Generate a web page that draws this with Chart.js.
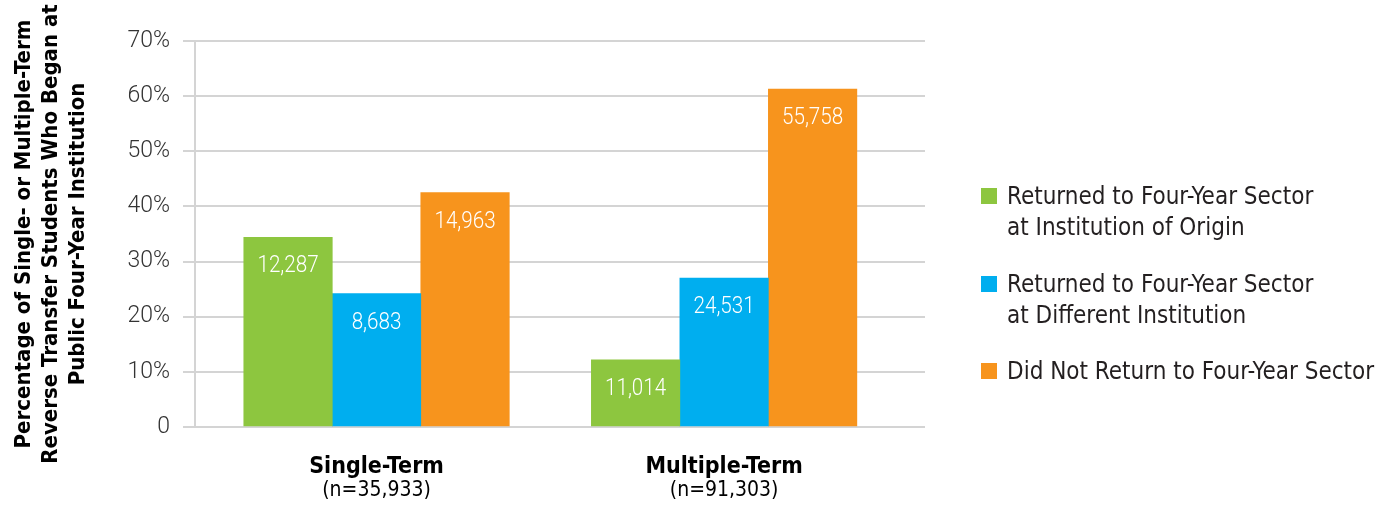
<!DOCTYPE html>
<html lang=en>
<head>
<meta charset=UTF-8>
<title>Reverse transfer students</title>
<script src="https://cdn.jsdelivr.net/npm/chart.js"></script>
<style>
  * { margin: 0; padding: 0; }
  body { background: #fff; }
  .wrap { position: relative; width: 1377px; height: 508px; }
  .legend { position: absolute; left: 981px; top: 0; font-family: 'Liberation Sans Narrow', 'DejaVu Sans Condensed', sans-serif; font-size: 24px; line-height: 31px; color: #231f20; }
  .item { position: absolute; left: 0; white-space: nowrap; }
  .item i { position: absolute; left: 0; top: 7px; width: 16px; height: 16px; }
  .item span { display: block; margin-left: 26px; }
</style>
</head>
<body>
<div class=wrap>
  <canvas id="chart" width="1377" height="508"></canvas>
  <div class=legend id="legend"></div>
</div>
<script>
const categories = ['Single-Term', 'Multiple-Term'];
const groupSizes = ['(n=35,933)', '(n=91,303)'];
const seriesNames = [
  ['Returned to Four-Year Sector', 'at Institution of Origin'],
  ['Returned to Four-Year Sector', 'at Different Institution'],
  ['Did Not Return to Four-Year Sector']
];
// percent of students (bar heights)
const originPct = [34.4, 12.2];
const differentPct = [24.2, 27.0];
const notReturnPct = [42.5, 61.3];
// student counts printed inside the bars
const originCounts = [12287, 11014];
const differentCounts = [8683, 24531];
const notReturnCounts = [14963, 55758];
const yTicks = [0, 10, 20, 30, 40, 50, 60, 70];

const colors = ['#8dc63f', '#00aeef', '#f7941d'];
const NARROW = "'Liberation Sans Narrow', 'DejaVu Sans Condensed', sans-serif";

const pctSeries = [originPct, differentPct, notReturnPct];
const countSeries = [originCounts, differentCounts, notReturnCounts];

const datasets = pctSeries.map((vals, s) => ({
  label: seriesNames[s].join(' '),
  data: vals.map((v, i) => ({ x: i, y: v })),
  backgroundColor: colors[s],
  counts: countSeries[s],
  barThickness: 88.5,
  borderWidth: 0
}));

// the two groups are not centred in the plot, so the x range is set by hand
const xMin = -0.5223, xMax = 1.578;
const setTicks = s => { s.ticks = categories.map((c, i) => ({ value: i })); };

const barLabels = {
  id: 'barLabels',
  afterDatasetsDraw(chart) {
    const ctx = chart.ctx;
    chart.data.datasets.forEach((ds, d) => {
      chart.getDatasetMeta(d).data.forEach((bar, i) => {
        ctx.save();
        ctx.translate(bar.x, bar.y + 29);
        ctx.scale(0.86, 1);
        ctx.fillStyle = '#fff';
        ctx.font = '300 24px Roboto';
        ctx.textAlign = 'center';
        ctx.textBaseline = 'middle';
        ctx.fillText(ds.counts[i].toLocaleString('en-US'), 0, 0);
        ctx.restore();
      });
    });
  }
};

new Chart(document.getElementById('chart'), {
  type: 'bar',
  data: { datasets },
  plugins: [barLabels],
  options: {
    responsive: false,
    animation: false,
    layout: { padding: { top: 41, right: 452, left: 0, bottom: 7 } },
    plugins: { legend: { display: false }, tooltip: { enabled: false } },
    scales: {
      x: {
        type: 'linear', min: xMin, max: xMax, offset: false, weight: 0,
        afterBuildTicks: setTicks,
        afterFit: s => { s.height = 52; },
        grid: { display: false, drawTicks: false },
        border: { display: false },
        ticks: {
          autoSkip: false, maxRotation: 0, padding: 29, color: '#000',
          font: { family: NARROW, size: 23, weight: 'bold', lineHeight: 1 },
          callback: (v, i) => categories[i]
        }
      },
      x2: {
        type: 'linear', min: xMin, max: xMax, offset: false, position: 'bottom', weight: 1,
        afterBuildTicks: setTicks,
        afterFit: s => { s.height = 22; },
        grid: { display: false, drawTicks: false },
        border: { display: false },
        ticks: {
          autoSkip: false, maxRotation: 0, padding: 1, color: '#000',
          font: { family: NARROW, size: 21, lineHeight: 1 },
          callback: (v, i) => groupSizes[i]
        }
      },
      y: {
        min: 0, max: 70,
        afterBuildTicks: s => { s.ticks = yTicks.map(v => ({ value: v })); },
        afterFit: s => { s.width = 195; },
        grid: { color: '#d4d4d4', lineWidth: 2, tickLength: 12 },
        border: { display: true, color: '#d4d4d4', width: 2 },
        ticks: {
          padding: 13, color: '#333',
          font: { family: 'Roboto', size: 23, weight: 300 },
          callback: v => v === 0 ? '0' : v + '%'
        },
        title: {
          display: true, color: '#000',
          text: ['Percentage of Single- or Multiple-Term', 'Reverse Transfer Students Who Began at', 'Public Four-Year Institution'],
          font: { family: NARROW, size: 22, weight: 'bold', lineHeight: 1.23 },
          padding: { top: 11, bottom: 0 }
        }
      }
    }
  }
});

// legend, built from the series names and colours
const legendTops = [181, 269, 356];
const legend = document.getElementById('legend');
seriesNames.forEach((lines, s) => {
  const item = document.createElement('div');
  item.className = 'item';
  item.style.top = legendTops[s] + 'px';
  const box = document.createElement('i');
  box.style.background = colors[s];
  item.appendChild(box);
  lines.forEach(t => {
    const sp = document.createElement('span');
    sp.textContent = t;
    item.appendChild(sp);
  });
  legend.appendChild(item);
});
</script>
</body>
</html>
